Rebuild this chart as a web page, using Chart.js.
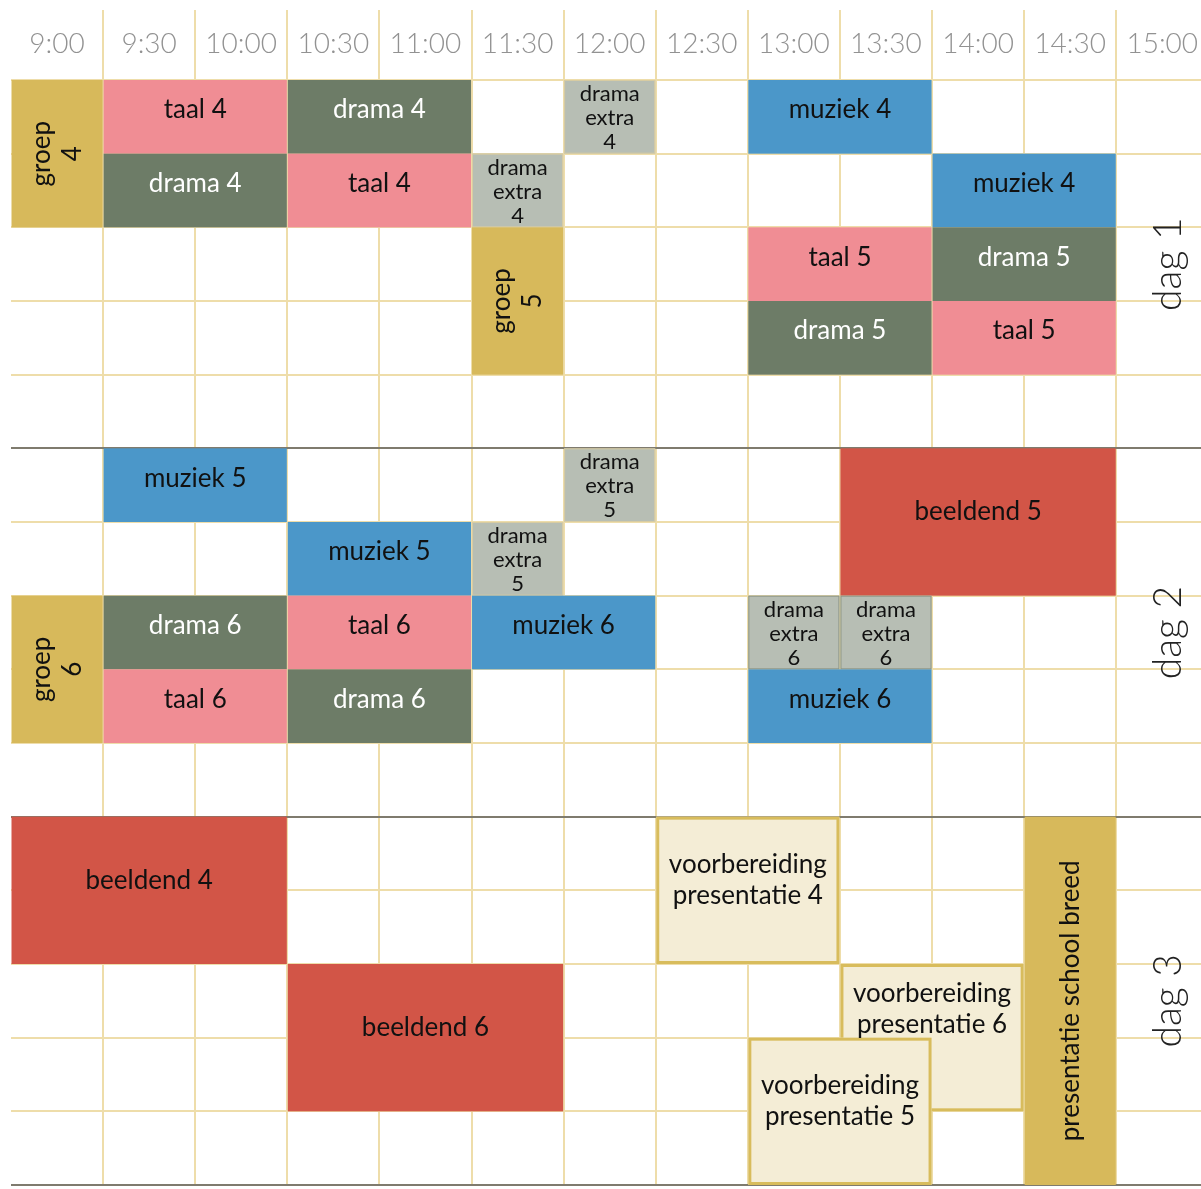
<!DOCTYPE html>
<html><head><meta charset="utf-8">
<script src="https://cdn.jsdelivr.net/npm/chart.js@4/dist/chart.umd.min.js"></script>
<style>html,body{margin:0;padding:0;background:#fff}#wrap{width:1201px;height:1189px}</style>
</head><body><div id="wrap"><canvas id="c" width="1201" height="1189"></canvas></div>
<script>
// ---- data ----
const timeLabels = ['9:00','9:30','10:00','10:30','11:00','11:30','12:00','12:30','13:00','13:30','14:00','14:30','15:00'];
const dayLabels = ['dag 1','dag 2','dag 3'];
const slotsPerDay = 5;

const actLabel = [
  'groep\n4','taal 4','drama 4','drama\nextra\n4','muziek 4','drama 4','taal 4','drama\nextra\n4','muziek 4',
  'groep\n5','taal 5','drama 5','drama 5','taal 5',
  'muziek 5','drama\nextra\n5','beeldend 5','muziek 5','drama\nextra\n5',
  'groep\n6','drama 6','taal 6','muziek 6','drama\nextra\n6','drama\nextra\n6','taal 6','drama 6','muziek 6',
  'beeldend 4','voorbereiding\npresentatie 4','presentatie school breed','beeldend 6','voorbereiding\npresentatie 6','voorbereiding\npresentatie 5'
];
const actKind = [
  'groep','taal','drama','extra','muziek','drama','taal','extra','muziek',
  'groep','taal','drama','drama','taal',
  'muziek','extra','beeldend','muziek','extra',
  'groep','drama','taal','muziek','extra6','extra6','taal','drama','muziek',
  'beeldend','voorb','school','beeldend','voorb','voorb'
];
const actDay = [
  1,1,1,1,1,1,1,1,1,
  1,1,1,1,1,
  2,2,2,2,2,
  2,2,2,2,2,2,2,2,2,
  3,3,3,3,3,3
];
const actFrom = [
  '9:00','9:30','10:30','12:00','13:00','9:30','10:30','11:30','14:00',
  '11:30','13:00','14:00','13:00','14:00',
  '9:30','12:00','13:30','10:30','11:30',
  '9:00','9:30','10:30','11:30','13:00','13:30','9:30','10:30','13:00',
  '9:00','12:30','14:30','10:30','13:30','13:00'
];
const actTo = [
  '9:30','10:30','11:30','12:30','14:00','10:30','11:30','12:00','15:00',
  '12:00','14:00','15:00','14:00','15:00',
  '10:30','12:30','15:00','11:30','12:00',
  '9:30','10:30','11:30','12:30','13:30','14:00','10:30','11:30','14:00',
  '10:30','13:30','15:00','12:00','14:30','14:00'
];
const actSlot = [
  1,1,1,1,1,2,2,2,2,
  3,3,3,4,4,
  1,1,1,2,2,
  3,3,3,3,3,3,4,4,4,
  1,1,1,3,3,4
];
const actSlots = [
  2,1,1,1,1,1,1,1,1,
  2,1,1,1,1,
  1,1,2,1,1,
  2,1,1,1,1,1,1,1,1,
  2,2,5,2,2,2
];

// ---- styles ----
const FONT = 'Lato, "Open Sans", sans-serif';
const kindStyle = {
  groep:   {fill:'#D7B95B', color:'#111', size:26, lh:31, rotate:true},
  taal:    {fill:'#F08D94', color:'#111', size:26, lh:30},
  drama:   {fill:'#6D7C67', color:'#fff', size:26, lh:30},
  extra:   {fill:'#B7BEB4', color:'#111', size:22, lh:24, border:'rgba(220,205,160,0.9)', bw:1},
  extra6:  {fill:'#B7BEB4', color:'#111', size:22, lh:24, border:'rgba(110,120,100,0.6)', bw:1},
  muziek:  {fill:'#4B97C9', color:'#111', size:26, lh:30},
  beeldend:{fill:'#D25547', color:'#111', size:26, lh:30},
  voorb:   {fill:'#F4EDD6', color:'#111', size:26, lh:31, border:'#D8BC5C', bw:3},
  school:  {fill:'#D7B95B', color:'#111', size:26, lh:30, rotate:true}
};

function rowIndex(day, slot){ return (day-1)*slotsPerDay + (slot-1); }

function drawLines(ctx, lines, cx, cy, lh){
  const n = lines.length;
  lines.forEach((t,k)=>{ ctx.fillText(t, cx, cy + (k-(n-1)/2)*lh); });
}

const blocksPlugin = {
  id:'blocks',
  afterDatasetsDraw(chart){
    const {ctx, scales:{x, y}} = chart;
    ctx.save();
    const rects = actLabel.map((_,i)=>{
      const c0 = timeLabels.indexOf(actFrom[i]);
      const c1 = timeLabels.indexOf(actTo[i]);
      const r0 = rowIndex(actDay[i], actSlot[i]);
      const r1 = r0 + actSlots[i];
      return {left:x.getPixelForValue(c0), right:x.getPixelForValue(c1),
              top:y.getPixelForValue(r0), bottom:y.getPixelForValue(r1)};
    });
    // boxes
    rects.forEach((r,i)=>{
      const st = kindStyle[actKind[i]];
      ctx.fillStyle = st.fill;
      ctx.fillRect(r.left+0.5, r.top, r.right-r.left-1, r.bottom-r.top);
      if (st.border){
        ctx.strokeStyle = st.border; ctx.lineWidth = st.bw;
        const h = st.bw/2;
        ctx.strokeRect(r.left+0.5+h, r.top+h, r.right-r.left-1-st.bw, r.bottom-r.top-st.bw);
      }
    });
    // texts
    rects.forEach((r,i)=>{
      const kind = actKind[i];
      const st = kindStyle[kind];
      ctx.fillStyle = st.color;
      ctx.font = '400 ' + st.size + 'px ' + FONT;
      ctx.textAlign = 'center'; ctx.textBaseline = 'middle';
      const lines = actLabel[i].split('\n');
      const cx = (r.left+r.right)/2;
      let cy = (r.top+r.bottom)/2;
      // if a later block covers the lower part, centre the text in the visible part
      let visBottom = r.bottom;
      for (let j=i+1;j<rects.length;j++){
        const o = rects[j];
        if (o.left < r.right-2 && o.right > r.left+2 && o.top > r.top+2 && o.top < r.bottom-2) visBottom = Math.min(visBottom, o.top);
      }
      if (st.rotate){
        ctx.save(); ctx.translate(cx, cy); ctx.rotate(-Math.PI/2);
        drawLines(ctx, lines, 0, 0, st.lh);
        ctx.restore();
      } else {
        let off;
        if (visBottom < r.bottom){ cy = (r.top+visBottom)/2; off = 8; }
        else off = kind.startsWith('extra') ? 1 : (actSlots[i]>1 ? -10 : -7);
        drawLines(ctx, lines, cx, cy+off, st.lh);
      }
    });
    // day labels
    ctx.fillStyle = '#222';
    ctx.font = '300 39px ' + FONT;
    dayLabels.forEach((d,k)=>{
      const px = x.getPixelForValue(timeLabels.length-0.5) + 6;
      const py = y.getPixelForValue(rowIndex(k+1, 3) + 0.5);
      ctx.save(); ctx.translate(px, py); ctx.rotate(-Math.PI/2);
      ctx.textAlign='center'; ctx.textBaseline='middle';
      ctx.fillText(d, 0, 0);
      ctx.restore();
    });
    ctx.restore();
  }
};

const GOLD = '#EEDDAA';
new Chart(document.getElementById('c'), {
  type:'scatter',
  data:{datasets:[]},
  options:{
    responsive:false, animation:false,
    layout:{padding:{left:11,right:0,top:0,bottom:4}},
    plugins:{legend:{display:false}, tooltip:{enabled:false}},
    scales:{
      x:{type:'linear', position:'top', min:0, max:12.92,
        afterBuildTicks: s => { s.ticks = timeLabels.map((_,i)=>({value:i})); },
        afterFit: s => { s.height = 80; },
        grid:{color: c => (c.tick && c.tick.value===0) ? 'rgba(0,0,0,0)' : GOLD, lineWidth:2, tickLength:70, drawTicks:true},
        border:{display:false},
        ticks:{callback: v => timeLabels[v], labelOffset:46, padding:-51, color:'#929292',
               font:{family:FONT, size:28, weight:'300'}, maxRotation:0, autoSkip:false}
      },
      y:{type:'linear', min:0, max:15, reverse:true,
        afterBuildTicks: s => { s.ticks = Array.from({length:16},(_,i)=>({value:i})); },
        afterFit: s => { s.width = 0; },
        grid:{color:GOLD, lineWidth:2, drawTicks:false},
        border:{display:false}, ticks:{display:false}
      },
      sep:{type:'linear', axis:'y', position:'left', min:0, max:15, reverse:true, z:1,
        afterBuildTicks: s => { s.ticks = [5,10,15].map(v=>({value:v})); },
        afterFit: s => { s.width = 0; },
        grid:{color:'rgba(90,90,90,0.75)', lineWidth:2, drawTicks:false},
        border:{display:false}, ticks:{display:false}
      }
    }
  },
  plugins:[blocksPlugin]
});
</script>
</body></html>
